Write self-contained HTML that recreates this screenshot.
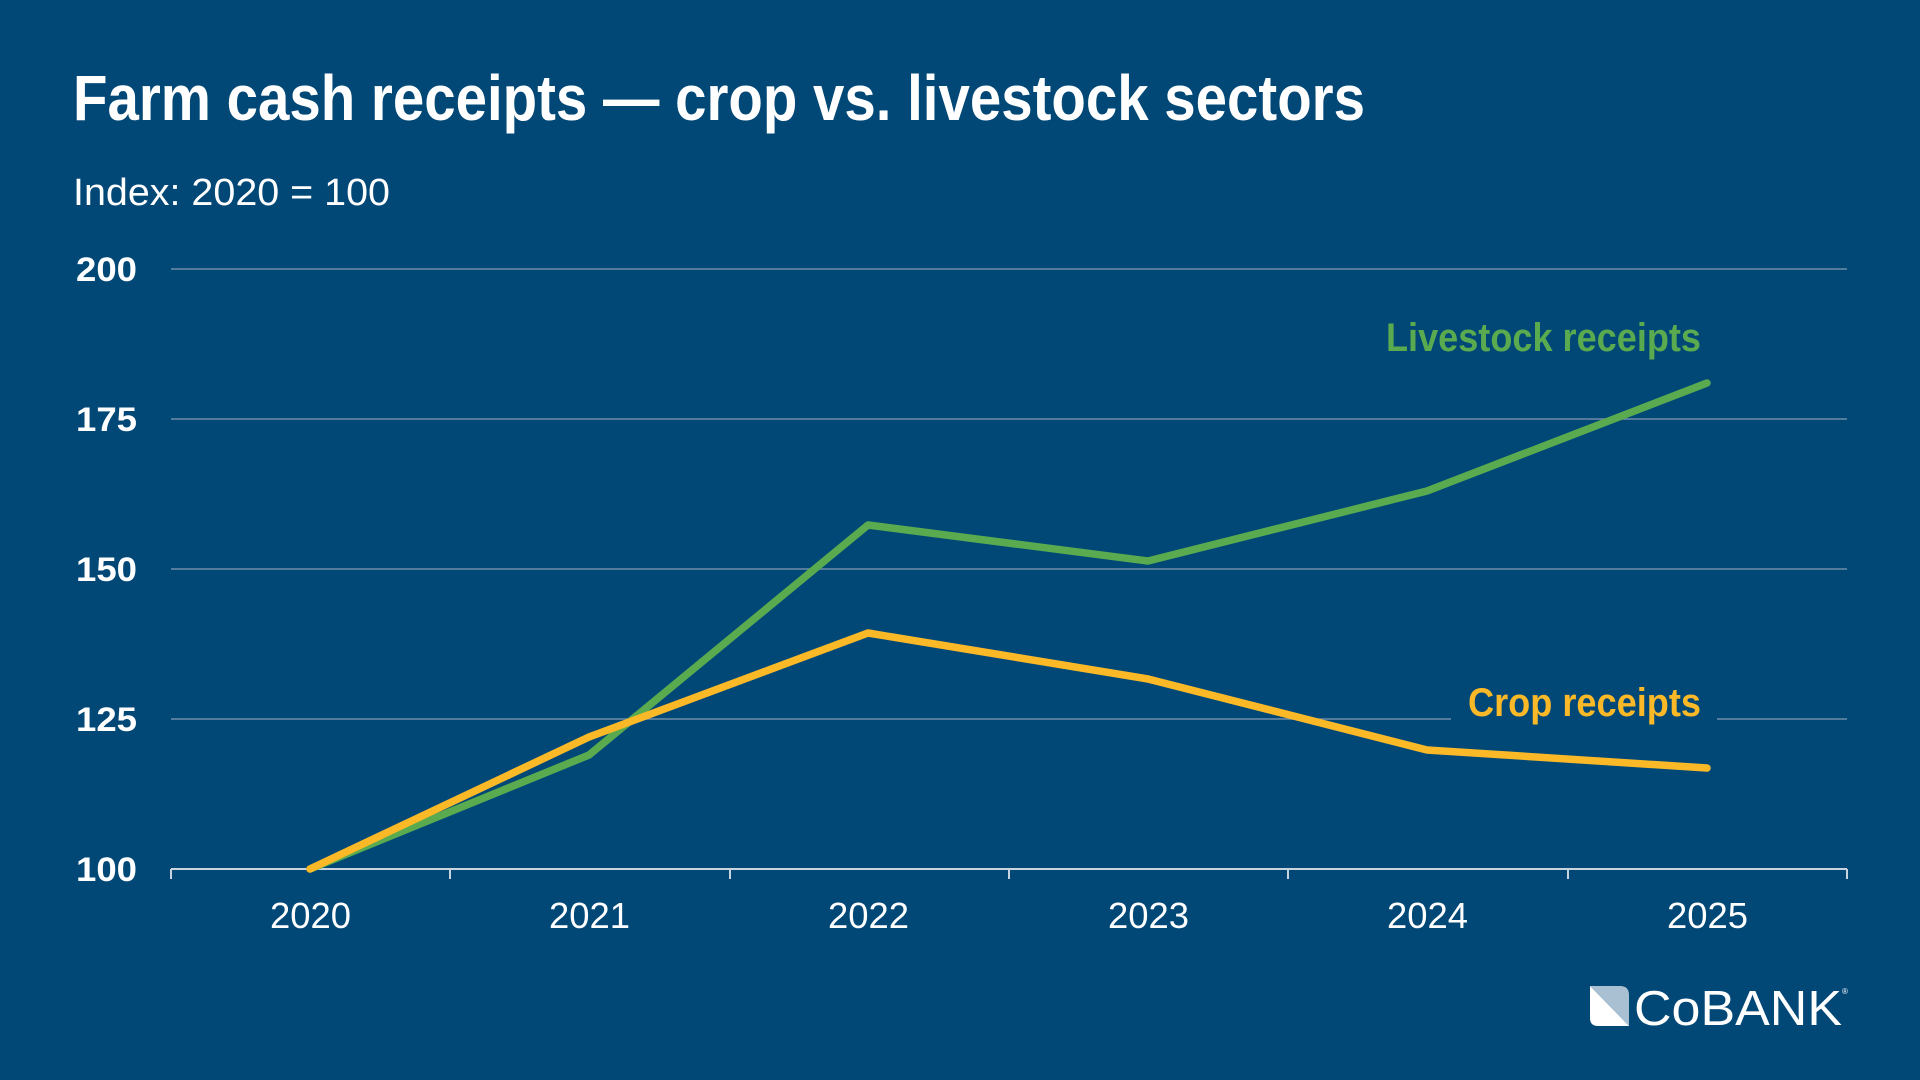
<!DOCTYPE html>
<html><head><meta charset="utf-8"><style>
html,body{margin:0;padding:0;background:#014877;}
svg{display:block;font-family:"Liberation Sans Narrow","Liberation Sans",sans-serif;}
</style></head><body>
<svg width="1920" height="1080" viewBox="0 0 1920 1080" xmlns="http://www.w3.org/2000/svg">
<rect width="1920" height="1080" fill="#014877"/>
<text x="73" y="120" fill="#fff" font-size="64" font-weight="bold" textLength="1292" lengthAdjust="spacingAndGlyphs">Farm cash receipts — crop vs. livestock sectors</text>
<text x="73" y="205" fill="#fff" font-size="38" textLength="317" lengthAdjust="spacingAndGlyphs">Index: 2020 = 100</text>
<g stroke="#6f8ea8" stroke-width="1.5">
<line x1="171" y1="269" x2="1847" y2="269"/>
<line x1="171" y1="419" x2="1847" y2="419"/>
<line x1="171" y1="569" x2="1847" y2="569"/>
<line x1="171" y1="719" x2="1847" y2="719"/>
</g>
<g stroke="#c9d4de" stroke-width="2">
<line x1="171" y1="869" x2="1847" y2="869"/>
<line x1="171" y1="869" x2="171" y2="879"/>
<line x1="450" y1="869" x2="450" y2="879"/>
<line x1="730" y1="869" x2="730" y2="879"/>
<line x1="1009" y1="869" x2="1009" y2="879"/>
<line x1="1288" y1="869" x2="1288" y2="879"/>
<line x1="1568" y1="869" x2="1568" y2="879"/>
<line x1="1847" y1="869" x2="1847" y2="879"/>
</g>
<g fill="#fff" font-size="34" font-weight="bold">
<text x="76" y="281" textLength="61" lengthAdjust="spacingAndGlyphs">200</text>
<text x="76" y="431" textLength="61" lengthAdjust="spacingAndGlyphs">175</text>
<text x="76" y="581" textLength="61" lengthAdjust="spacingAndGlyphs">150</text>
<text x="76" y="731" textLength="61" lengthAdjust="spacingAndGlyphs">125</text>
<text x="76" y="881" textLength="61" lengthAdjust="spacingAndGlyphs">100</text>
</g>
<g fill="#fff" font-size="36">
<text x="270" y="928" textLength="81" lengthAdjust="spacingAndGlyphs">2020</text>
<text x="549" y="928" textLength="81" lengthAdjust="spacingAndGlyphs">2021</text>
<text x="828" y="928" textLength="81" lengthAdjust="spacingAndGlyphs">2022</text>
<text x="1108" y="928" textLength="81" lengthAdjust="spacingAndGlyphs">2023</text>
<text x="1387" y="928" textLength="81" lengthAdjust="spacingAndGlyphs">2024</text>
<text x="1667" y="928" textLength="81" lengthAdjust="spacingAndGlyphs">2025</text>
</g>
<rect x="1451" y="700" width="266" height="40" fill="#014877"/>
<polyline fill="none" stroke="#5aab4f" stroke-width="7.5" stroke-linejoin="round" stroke-linecap="round"
 points="310,869 589,755 868,525 1148,561 1427,491 1707,383"/>
<polyline fill="none" stroke="#fbb927" stroke-width="7.5" stroke-linejoin="round" stroke-linecap="round"
 points="310,869 589,737 868,633 1148,679 1427,750 1707,768"/>
<text x="1386" y="351" fill="#5aab4f" font-size="40" font-weight="bold" textLength="315" lengthAdjust="spacingAndGlyphs">Livestock receipts</text>
<text x="1468" y="716" fill="#fbb927" font-size="40" font-weight="bold" textLength="233" lengthAdjust="spacingAndGlyphs">Crop receipts</text>
<g>
<path d="M1590,986 H1620 Q1629,986 1629,995 V1026 Z" fill="#a9c0d2"/>
<path d="M1590,986 L1629,1026 H1598 Q1590,1026 1590,1018 Z" fill="#fff"/>
<text x="1634" y="1025" fill="#fff" font-size="49" textLength="208" lengthAdjust="spacingAndGlyphs" font-family="Liberation Sans, sans-serif">CoBANK</text>
<text x="1842" y="994" fill="#fff" font-size="8">®</text>
</g>
</svg>
</body></html>
